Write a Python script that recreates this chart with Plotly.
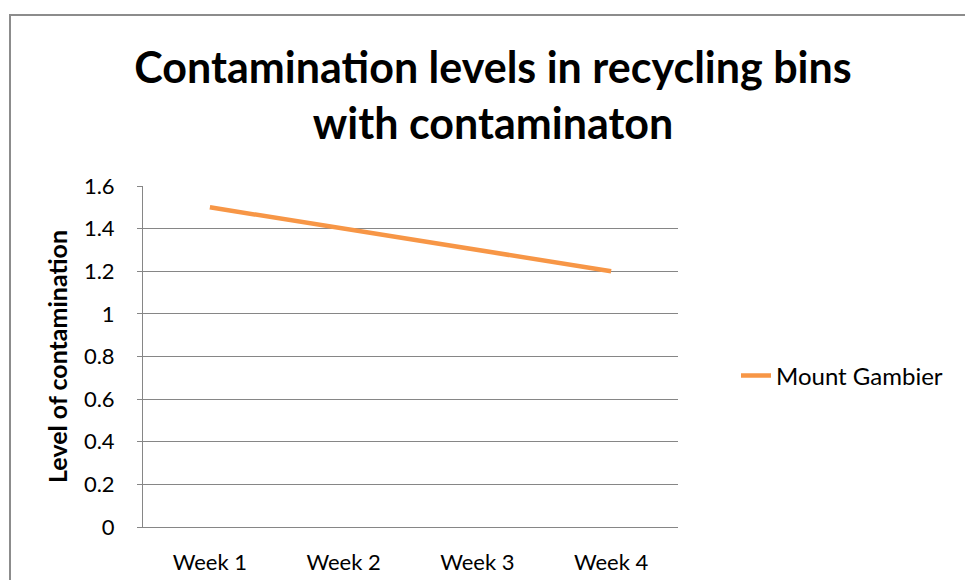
import plotly.graph_objects as go

categories = ["Week 1", "Week 2", "Week 3", "Week 4"]
mount_gambier = [1.5, 1.4, 1.3, 1.2]
series_name = "Mount Gambier"
y_ticks = [0, 0.2, 0.4, 0.6, 0.8, 1, 1.2, 1.4, 1.6]
y_tick_labels = ["0", "0.2", "0.4", "0.6", "0.8", "1", "1.2", "1.4", "1.6"]

FONT = "Lato"
W, H = 965, 580
L, T = 143, 186
R = W - 678
B = H - 527

fig = go.Figure()
fig.add_trace(go.Scatter(
    x=categories, y=mount_gambier, mode="lines", name=series_name,
    line=dict(color="#F79646", width=4.5),
))

pw = W - L - R
ph = H - T - B
def px_x(p):
    return (p - L) / pw
def px_y(p):
    return (H - B - p) / ph

fig.update_layout(
    width=W, height=H,
    margin=dict(l=L, r=R, t=T, b=B, autoexpand=False),
    paper_bgcolor="white", plot_bgcolor="white",
    font=dict(family=FONT, color="black", size=22),
    title=dict(
        text="<b>Contamination levels in recycling bins<br>with contaminaton</b>",
        x=493 / W, xref="container", xanchor="center",
        y=1 - 83 / H, yref="container", yanchor="middle",
        font=dict(family=FONT, size=43, color="black"),
    ),
    showlegend=True,
    legend=dict(
        x=px_x(736), y=px_y(376), xanchor="left", yanchor="middle",
        font=dict(family=FONT, size=24, color="black"),
        bgcolor="rgba(0,0,0,0)", itemwidth=30,
    ),
    xaxis=dict(
        type="category", range=[-0.5, 3.5],
        showline=True, linecolor="#868686", linewidth=1,
        showgrid=False, ticks="", ticklabelstandoff=16,
        tickfont=dict(family=FONT, size=22, color="black"),
        zeroline=False,
    ),
    yaxis=dict(
        range=[0, 1.6], tickvals=y_ticks, ticktext=y_tick_labels,
        showline=True, linecolor="#868686", linewidth=1,
        showgrid=True, gridcolor="#868686", gridwidth=1,
        ticks="outside", ticklen=5, tickcolor="#868686",
        ticklabelstandoff=18,
        tickfont=dict(family=FONT, size=22, color="black"),
        zeroline=False,
        title=dict(text="<b>Level of contamination</b>",
                   font=dict(family=FONT, size=25, color="black"), standoff=9),
    ),
    shapes=[dict(
        type="rect", xref="paper", yref="paper",
        x0=px_x(10), x1=px_x(1100), y0=px_y(700), y1=px_y(15),
        line=dict(color="#8C8C8C", width=2), fillcolor="rgba(0,0,0,0)", layer="below",
    )],
)

fig.write_html(
    "out.html",
    config={"displayModeBar": False},
    post_script="document.body.style.margin='0';document.body.style.overflow='hidden';",
)
